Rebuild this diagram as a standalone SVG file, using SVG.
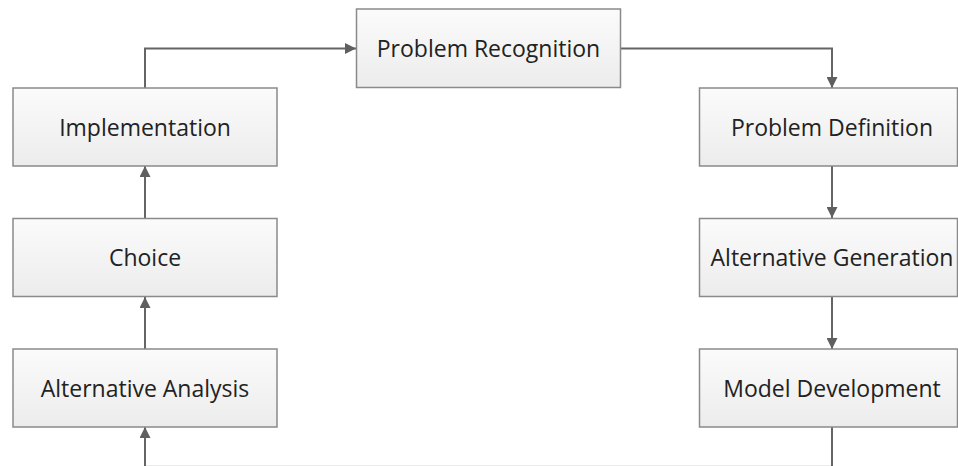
<svg xmlns="http://www.w3.org/2000/svg" width="958" height="466" viewBox="0 0 958 466">
  <defs>
    <linearGradient id="boxFill" x1="0" y1="0" x2="0" y2="1">
      <stop offset="0" stop-color="#fbfbfb"/>
      <stop offset="1" stop-color="#ececec"/>
    </linearGradient>
    <marker id="arrow" viewBox="0 0 10 10" refX="10" refY="5" markerWidth="11" markerHeight="11" markerUnits="userSpaceOnUse" orient="auto">
      <path d="M0,0 L10,5 L0,10 z" fill="#5f5f5f"/>
    </marker>
    <style>
      .box { fill: url(#boxFill); stroke: #8a8a8a; stroke-width: 1.5; }
      .label { font-family: "Open Sans", "Liberation Sans", sans-serif; font-size: 23px; fill: #222222; text-anchor: middle; }
      .link { fill: none; stroke: #656565; stroke-width: 2; marker-end: url(#arrow); }
      .edge-run { stroke: #ebebeb; stroke-width: 1; }
    </style>
  </defs>
  <rect width="958" height="466" fill="#ffffff"/>

  <g id="connectors">
    <path class="link" d="M145,88 V48.5 H356"/>
    <path class="link" d="M620,48.5 H832 V88"/>
    <path class="link" d="M832,166 V218"/>
    <path class="link" d="M832,297 V349"/>
    <path class="link" d="M832,427 V468 H145 V427"/>
    <line class="edge-run" x1="146" y1="465.5" x2="831" y2="465.5"/>
    <path class="link" d="M145,349 V297"/>
    <path class="link" d="M145,218 V166"/>
  </g>

  <g id="problem-recognition">
    <rect class="box" x="356.5" y="9" width="264" height="78.5"/>
    <text class="label" x="488.5" y="56.5">Problem Recognition</text>
  </g>
  <g id="problem-definition">
    <rect class="box" x="699.5" y="88" width="258" height="78"/>
    <text class="label" x="832" y="135.5">Problem Definition</text>
  </g>
  <g id="alternative-generation">
    <rect class="box" x="699.5" y="218.5" width="258" height="78"/>
    <text class="label" x="832" y="266">Alternative Generation</text>
  </g>
  <g id="model-development">
    <rect class="box" x="699.5" y="349" width="258" height="78"/>
    <text class="label" x="832" y="396.5">Model Development</text>
  </g>
  <g id="implementation">
    <rect class="box" x="13" y="88" width="264" height="78"/>
    <text class="label" x="145" y="135.5">Implementation</text>
  </g>
  <g id="choice">
    <rect class="box" x="13" y="218.5" width="264" height="78"/>
    <text class="label" x="145" y="266">Choice</text>
  </g>
  <g id="alternative-analysis">
    <rect class="box" x="13" y="349" width="264" height="78"/>
    <text class="label" x="145" y="396.5">Alternative Analysis</text>
  </g>
</svg>
